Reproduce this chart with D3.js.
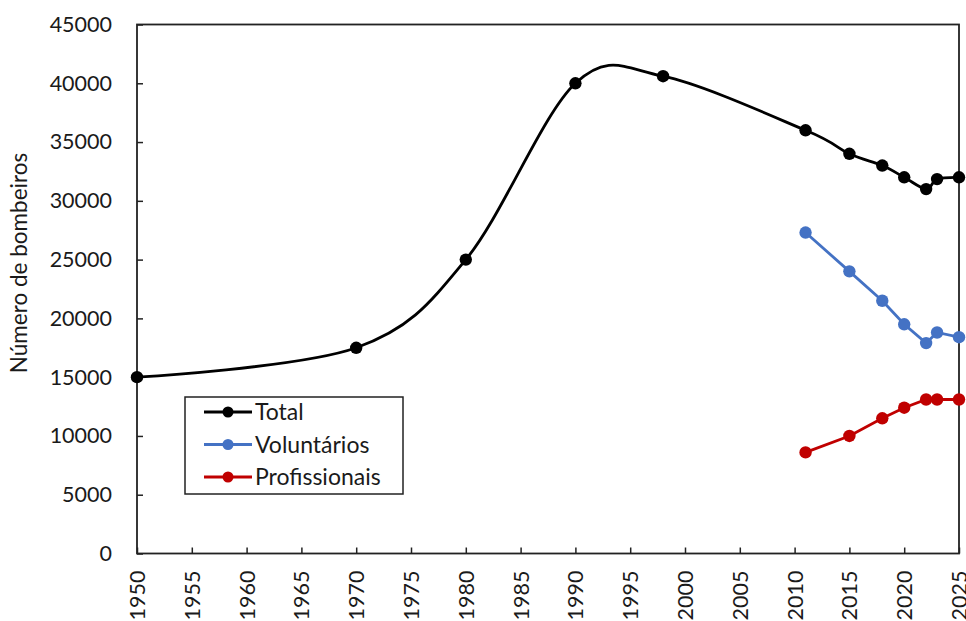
<!DOCTYPE html>
<html><head><meta charset="utf-8">
<script src="https://cdn.jsdelivr.net/npm/d3@7"></script>
<style>body{margin:0;background:#fff}svg{display:block}text{font-family:Lato,"Open Sans",sans-serif;fill:#1a1a1a}</style>
</head><body>
<svg id="c" width="966" height="621"></svg>
<script>
const totalYears = [1950, 1970, 1980, 1990, 1998, 2011, 2015, 2018, 2020, 2022, 2023, 2025];
const totalValues = [15000, 17500, 25000, 40000, 40600, 36000, 34000, 33000, 32000, 31000, 31850, 32000];
const subYears = [2011, 2015, 2018, 2020, 2022, 2023, 2025];
const voluntariosValues = [27300, 24000, 21500, 19500, 17900, 18800, 18400];
const profissionaisValues = [8600, 10000, 11500, 12400, 13100, 13100, 13100];
const xTicks = d3.range(1950, 2026, 5);
const yTicks = d3.range(0, 45001, 5000);
const seriesNames = ["Total", "Voluntários", "Profissionais"];
const seriesColors = ["#000000", "#4472C4", "#C00000"];
const yTitle = "Número de bombeiros";

const svg = d3.select("#c");
const L = 137, R = 959, T = 24.5, B = 553.5;
const x = d3.scaleLinear().domain([1950, 2025]).range([L, R]);
const y = d3.scaleLinear().domain([0, 45000]).range([B, T]);

// axes with inward ticks
const gx = svg.append("g").attr("transform", `translate(0,${B})`)
  .call(d3.axisBottom(x).tickValues(xTicks).tickSizeInner(-6).tickSizeOuter(0).tickFormat(d3.format("d")).tickPadding(8));
gx.selectAll("text").attr("transform", "rotate(-90)").attr("text-anchor", "end")
  .attr("x", -17).attr("y", 0).attr("dy", "0.35em").style("font-size", "21.5px");
const gy = svg.append("g").attr("transform", `translate(${L},0)`)
  .call(d3.axisLeft(y).tickValues(yTicks).tickSizeInner(-6).tickSizeOuter(0).tickFormat(d3.format("d")).tickPadding(25));
gy.selectAll("text").style("font-size", "21.5px");
svg.selectAll(".domain").remove();
svg.selectAll(".tick line").attr("stroke", "#222").attr("stroke-width", 1.5);

// frame
svg.append("rect").attr("x", L).attr("y", T).attr("width", R - L).attr("height", B - T)
  .attr("fill", "none").attr("stroke", "#222").attr("stroke-width", 1.8);

svg.append("text").attr("transform", `translate(27,263) rotate(-90)`)
  .attr("text-anchor", "middle").style("font-size", "22.5px").text(yTitle);

function drawSeries(xs, vs, color, curve) {
  const pts = xs.map((d, i) => [d, vs[i]]);
  svg.append("path").datum(pts)
    .attr("d", d3.line().x(d => x(d[0])).y(d => y(d[1])).curve(curve))
    .attr("fill", "none").attr("stroke", color).attr("stroke-width", 2.8);
  svg.append("g").selectAll("circle").data(pts).join("circle")
    .attr("cx", d => x(d[0])).attr("cy", d => y(d[1])).attr("r", 6.2).attr("fill", color);
}
drawSeries(totalYears, totalValues, seriesColors[0], d3.curveCardinal.tension(0));
drawSeries(subYears, voluntariosValues, seriesColors[1], d3.curveLinear);
drawSeries(subYears, profissionaisValues, seriesColors[2], d3.curveLinear);

// legend
const lg = svg.append("g").attr("transform", "translate(185,397)");
lg.append("rect").attr("width", 218).attr("height", 97).attr("fill", "#fff").attr("stroke", "#222").attr("stroke-width", 1.5);
seriesNames.forEach((n, i) => {
  const yy = 15 + i * 32.5;
  lg.append("line").attr("x1", 19).attr("x2", 67).attr("y1", yy).attr("y2", yy).attr("stroke", seriesColors[i]).attr("stroke-width", 2.8);
  lg.append("circle").attr("cx", 43).attr("cy", yy).attr("r", 5.5).attr("fill", seriesColors[i]);
  lg.append("text").attr("x", 70).attr("y", yy).attr("dy", "0.35em").style("font-size", "23px").text(n);
});
</script>
</body></html>
